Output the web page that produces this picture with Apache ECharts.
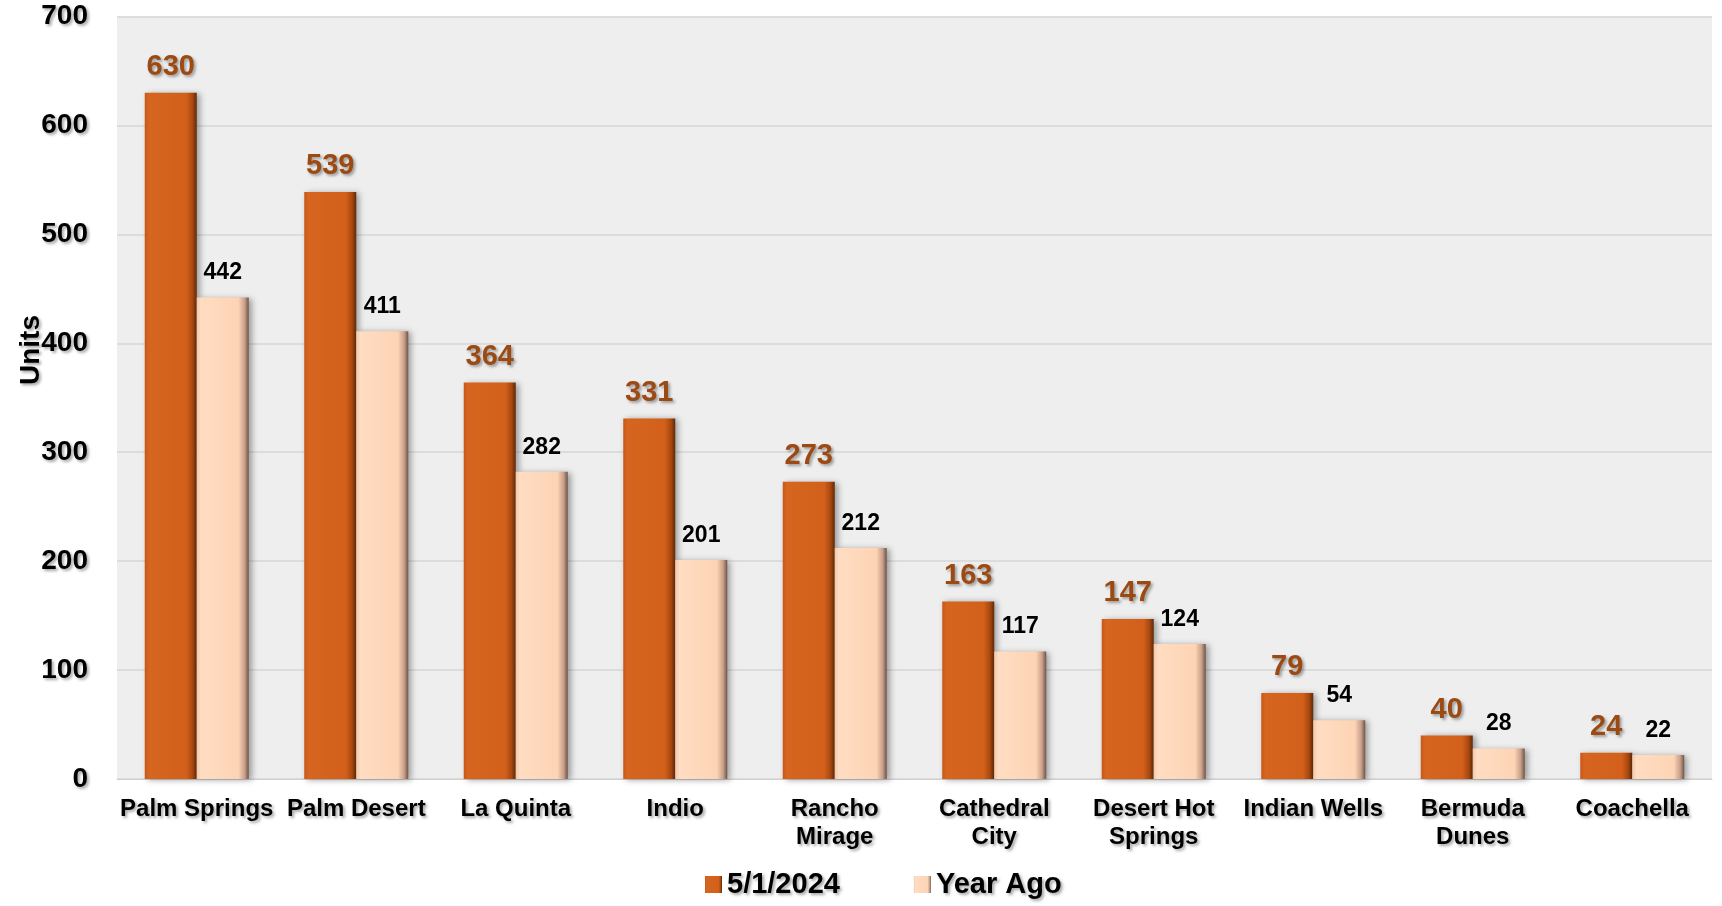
<!DOCTYPE html>
<html>
<head>
<meta charset="utf-8">
<script src="https://cdn.jsdelivr.net/npm/echarts@6/dist/echarts.min.js"></script>
<style>
  html, body { margin: 0; padding: 0; background: #fff; }
  #chart { width: 1722px; height: 906px; }
</style>
</head>
<body>
<div id="chart"></div>
<script>
  const categories = ['Palm Springs', 'Palm Desert', 'La Quinta', 'Indio', 'Rancho\nMirage',
    'Cathedral\nCity', 'Desert Hot\nSprings', 'Indian Wells', 'Bermuda\nDunes', 'Coachella']
  const current = [630, 539, 364, 331, 273, 163, 147, 79, 40, 24]
  const yearAgo = [442, 411, 282, 201, 212, 117, 124, 54, 28, 22]
  const yTicks = [0, 100, 200, 300, 400, 500, 600, 700]

  const font = 'Arial, "Liberation Sans", sans-serif'
  // text shadow like the original office chart
  const shadow = {
    textShadowColor: 'rgba(0,0,0,0.35)',
    textShadowBlur: 3,
    textShadowOffsetX: 2,
    textShadowOffsetY: 2
  }

  function hGrad(stops) {
    return new echarts.graphic.LinearGradient(0, 0, 1, 0, stops)
  }

  const chart = echarts.init(document.getElementById('chart'))
  chart.setOption({
    animation: false,
    textStyle: { fontFamily: font },
    grid: {
      left: 117,
      right: 10,
      top: 16.5,
      bottom: 127,
      show: true,
      backgroundColor: '#EEEEEE',
      borderWidth: 0
    },
    graphic: [{
      type: 'text',
      left: 17,
      top: 315,
      rotation: Math.PI / 2,
      style: Object.assign({
        text: 'Units',
        fontSize: 28,
        fontWeight: 'bold',
        fontFamily: font,
        fill: '#000'
      }, shadow)
    }],
    legend: {
      left: 700,
      top: 865,
      itemWidth: 17,
      itemHeight: 17,
      itemGap: 74,
      icon: 'rect',
      textStyle: Object.assign({
        fontSize: 29,
        fontWeight: 'bold',
        color: '#000'
      }, shadow)
    },
    xAxis: {
      type: 'category',
      data: categories,
      axisTick: { show: false },
      axisLine: { lineStyle: { color: '#D0D0D0', width: 1 } },
      axisLabel: Object.assign({
        interval: 0,
        fontSize: 24,
        fontWeight: 'bold',
        color: '#000',
        lineHeight: 28,
        margin: 16
      }, shadow)
    },
    yAxis: {
      type: 'value',
      min: yTicks[0],
      max: yTicks[yTicks.length - 1],
      interval: 100,
      axisLine: { show: false },
      axisTick: { show: false },
      splitLine: { lineStyle: { color: '#D6D6D6', width: 1.5 } },
      axisLabel: Object.assign({
        fontSize: 28,
        fontWeight: 'bold',
        color: '#000',
        margin: 29
      }, shadow)
    },
    series: [{
      name: '5/1/2024',
      type: 'bar',
      data: current,
      barWidth: 52,
      barGap: '0%',
      itemStyle: {
        color: hGrad([
          { offset: 0, color: '#C8581A' },
          { offset: 0.08, color: '#D5651F' },
          { offset: 0.8, color: '#D2601A' },
          { offset: 0.92, color: '#A8470F' },
          { offset: 1, color: '#5E2A08' }
        ]),
        shadowColor: 'rgba(0,0,0,0.35)',
        shadowBlur: 6,
        shadowOffsetX: 3,
        shadowOffsetY: 1
      },
      label: Object.assign({
        show: true,
        position: 'top',
        distance: 11,
        fontSize: 29,
        fontWeight: 'bold',
        color: '#9C4A14'
      }, shadow)
    }, {
      name: 'Year Ago',
      type: 'bar',
      data: yearAgo,
      barWidth: 52,
      itemStyle: {
        color: hGrad([
          { offset: 0, color: '#F3C7A6' },
          { offset: 0.08, color: '#FFDCC2' },
          { offset: 0.8, color: '#FDD4B4' },
          { offset: 0.92, color: '#C9A08A' },
          { offset: 1, color: '#6E5446' }
        ]),
        shadowColor: 'rgba(0,0,0,0.35)',
        shadowBlur: 6,
        shadowOffsetX: 3,
        shadowOffsetY: 1
      },
      label: {
        show: true,
        position: 'top',
        distance: 13,
        fontSize: 23,
        fontWeight: 'bold',
        color: '#000'
      }
    }]
  })
</script>
</body>
</html>
